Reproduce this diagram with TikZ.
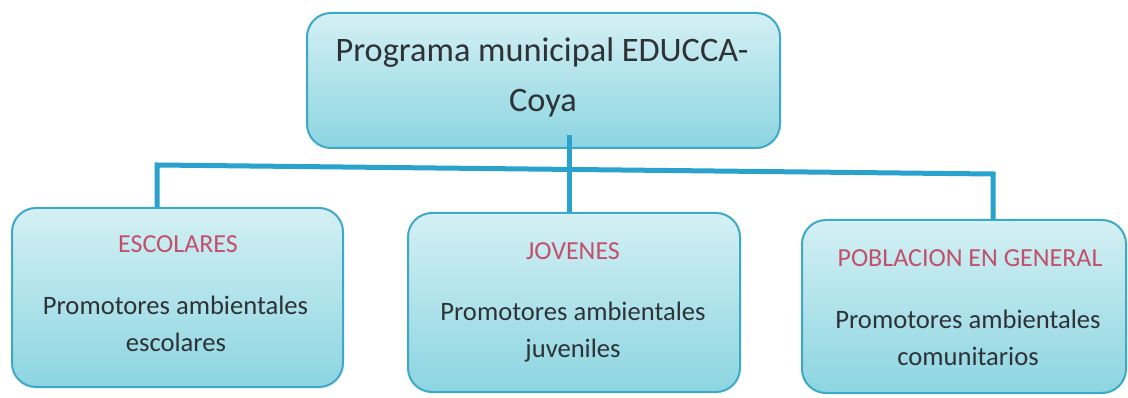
\documentclass[tikz,border=0pt]{standalone}
\usepackage{fontspec}
\setmainfont{Carlito}
\definecolor{linec}{HTML}{2AA2CE}
\definecolor{boxb}{HTML}{3CA9C9}
\definecolor{boxtop}{HTML}{D4F0F4}
\definecolor{boxbot}{HTML}{8CD5E1}
\definecolor{titr}{HTML}{C2506B}
\definecolor{txt}{HTML}{2E3236}
\begin{document}
\begin{tikzpicture}[x=1pt,y=-1pt,
  box/.style={draw=boxb, line width=2pt, rounded corners=24pt, top color=boxtop, bottom color=boxbot, inner sep=0pt},
  conn/.style={draw=linec, line width=5pt},
  maintxt/.style={anchor=base, text=txt, font=\fontsize{34.3}{40}\selectfont, inner sep=0pt},
  redtxt/.style={anchor=base, text=titr, font=\fontsize{26}{30}\selectfont, inner sep=0pt},
  bodytxt/.style={anchor=base, text=txt, font=\fontsize{26.6}{31}\selectfont, inner sep=0pt}]
\useasboundingbox (0,0) rectangle (1128,398);
\fill[white] (0,0) rectangle (1128,398);

% boxes
\node[box, minimum width=473pt, minimum height=135pt] (top) at (543.5,80.5) {};
\node[box, minimum width=331pt, minimum height=179pt] (left) at (177.5,297.5) {};
\node[box, minimum width=332pt, minimum height=179pt] (mid) at (574,302.5) {};
\node[box, minimum width=324pt, minimum height=173pt] (right) at (964,306.5) {};

% connectors
\coordinate (jl) at (157,165);
\coordinate (jr) at (993,174);
\coordinate (ts) at (569,135);
\draw[conn] (jl |- left.north) -- (jl) -- (jr) -- (jr |- right.north);
\draw[conn] (ts) -- (ts |- mid.north);

% texts
\node[maintxt] (t1) at (542,62) {Programa municipal EDUCCA-};
\node[maintxt] (t2) at (543,112) {Coya};

\node[redtxt] (l1) at (178,253) {ESCOLARES};
\node[bodytxt] (l2) at (175.5,315) {Promotores ambientales};
\node[bodytxt] (l3) at (176,352) {escolares};

\node[redtxt] (m1) at (573,260) {JOVENES};
\node[bodytxt] (m2) at (573,320) {Promotores ambientales};
\node[bodytxt] (m3) at (573,357) {juveniles};

\node[redtxt] (r1) at (970,267) {POBLACION EN GENERAL};
\node[bodytxt] (r2) at (968,328) {Promotores ambientales};
\node[bodytxt] (r3) at (968,365) {comunitarios};
\end{tikzpicture}
\end{document}
